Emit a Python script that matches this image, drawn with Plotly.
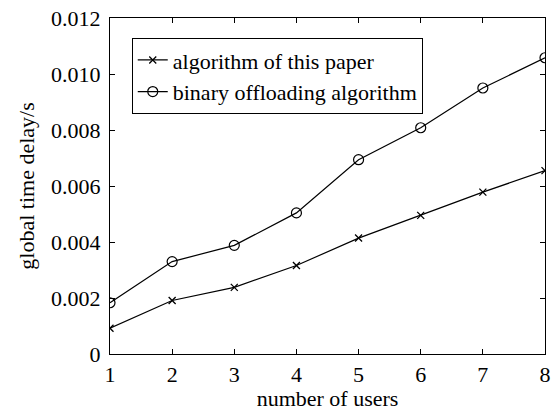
import plotly.graph_objects as go

users = [1, 2, 3, 4, 5, 6, 7, 8]
this_paper = [0.00092, 0.00191, 0.00238, 0.00316, 0.00414, 0.00495, 0.00578, 0.00655]
binary = [0.00183, 0.0033, 0.00388, 0.00504, 0.00694, 0.00808, 0.0095, 0.01058]
y_ticks = [0, 0.002, 0.004, 0.006, 0.008, 0.010, 0.012]
y_tick_labels = ["0", "0.002", "0.004", "0.006", "0.008", "0.010", "0.012"]
series_names = ["algorithm of this paper", "binary offloading algorithm"]

font = "Liberation Serif, Times New Roman, serif"
fs = 22

fig = go.Figure()
fig.add_trace(go.Scatter(
    x=users, y=this_paper, name=series_names[0], mode="lines+markers",
    line=dict(color="black", width=1.2),
    marker=dict(symbol="x-thin", size=7, line=dict(color="black", width=1.3)),
))
fig.add_trace(go.Scatter(
    x=users, y=binary, name=series_names[1], mode="lines+markers",
    line=dict(color="black", width=1.2),
    marker=dict(symbol="circle-open", size=10, color="black", line=dict(width=1.2)),
))

axis_common = dict(
    showline=True, linecolor="black", linewidth=1, mirror="ticks",
    ticks="inside", ticklen=5, tickcolor="black", showgrid=False, zeroline=False,
    automargin=False,
    tickfont=dict(family=font, size=fs, color="black"),
)
fig.update_xaxes(range=[1, 8], tickvals=users, ticklabelstandoff=1,
                 title=dict(text="number of users", font=dict(family=font, size=fs, color="black"), standoff=0),
                 **axis_common)
fig.update_yaxes(range=[0, 0.012], tickvals=y_ticks, ticktext=y_tick_labels, ticklabelstandoff=4,
                 title=dict(text="global time delay/s", font=dict(family=font, size=fs, color="black"), standoff=10),
                 **axis_common)

fig.update_layout(
    width=560, height=411,
    margin=dict(l=110, r=15, t=18, b=57),
    paper_bgcolor="white", plot_bgcolor="white",
    font=dict(family=font, size=fs, color="black"),
    legend=dict(x=0.05, y=0.94, xanchor="left", yanchor="top",
                bordercolor="black", borderwidth=1, bgcolor="white",
                font=dict(family=font, size=fs, color="black"),
                tracegroupgap=0, itemwidth=30),
    showlegend=True,
)

fig.write_html("out.html")
